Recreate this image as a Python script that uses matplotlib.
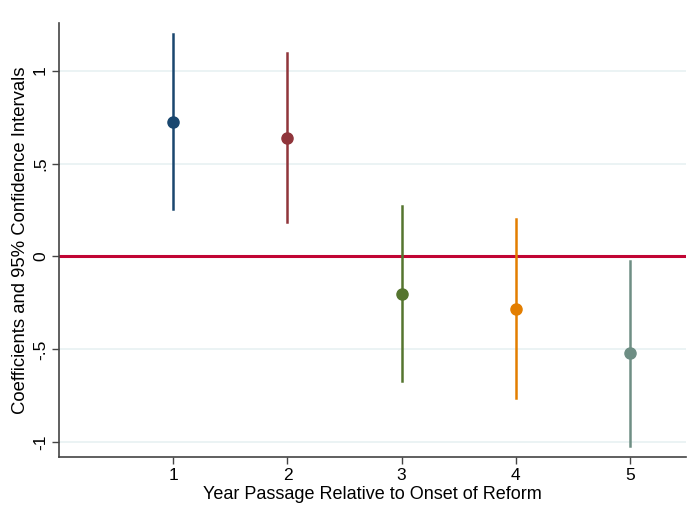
import matplotlib
matplotlib.use('Agg')
import matplotlib.pyplot as plt

plt.rcParams['font.family'] = ['Liberation Sans', 'DejaVu Sans']

# event-time coefficients with 95% CIs
years = [1, 2, 3, 4, 5]
coef = [0.724, 0.638, -0.202, -0.281, -0.521]
ci_low = [0.256, 0.185, -0.672, -0.761, -1.018]
ci_high = [1.196, 1.093, 0.269, 0.201, -0.025]
colors = ['#1a476f', '#90353b', '#55752f', '#e37e00', '#6e8e84']

yticks = [-1, -0.5, 0, 0.5, 1]
ytick_labels = ['-1', '-.5', '0', '.5', '1']

fig = plt.figure(figsize=(6.97, 5.12), dpi=100)
ax = fig.add_axes([0.0847, 0.1074, 0.8996, 0.8477])

for y in yticks:
    ax.axhline(y, color='#e8f1f2', lw=1.2, zorder=0)
ax.axhline(0, color='#c10534', lw=2.2, zorder=1)

for x, c, lo, hi, col in zip(years, coef, ci_low, ci_high, colors):
    ax.plot([x, x], [lo, hi], color=col, lw=1.8, zorder=2)
    ax.plot(x, c, 'o', color=col, ms=8, zorder=3)

ax.set_xlim(0, 5.49)
ax.set_ylim(-1.079, 1.256)
ax.set_xticks(years)
ax.set_yticks(yticks)
ax.set_yticklabels(ytick_labels, rotation=90, va='center')

for s in ['top', 'right']:
    ax.spines[s].set_visible(False)
for s in ['left', 'bottom']:
    ax.spines[s].set_color('#444444')
    ax.spines[s].set_linewidth(1.2)

ax.tick_params(axis='both', direction='out', length=5, width=1, color='#444444',
               labelsize=12.5, pad=3)
ax.set_xlabel('Year Passage Relative to Onset of Reform', fontsize=13, labelpad=2)
ax.set_ylabel('Coefficients and 95% Confidence Intervals', fontsize=13.3, labelpad=3)

fig.savefig('out.png', dpi=100)
